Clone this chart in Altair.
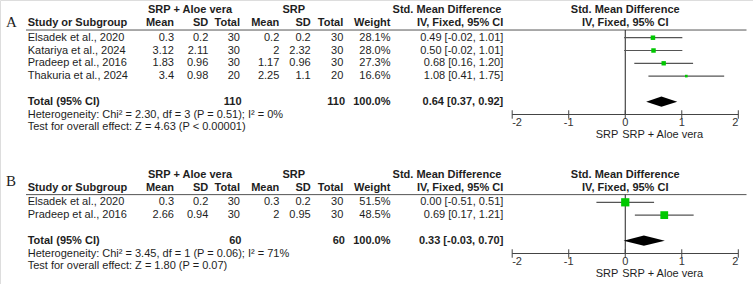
import altair as alt
import pandas as pd

W, H = 753, 284
PITCH = 12.8          # pixel height of one table line
FONT = "Liberation Sans"
TXT = "#1e1e1e"

# ---------------- Panel A ----------------
studies_a = ["Elsadek et al., 2020", "Katariya et al., 2024",
             "Pradeep et al., 2016", "Thakuria et al., 2024"]
aloe_mean_a = [0.3, 3.12, 1.83, 3.4]
aloe_sd_a = [0.2, 2.11, 0.96, 0.98]
aloe_n_a = [30, 30, 30, 20]
srp_mean_a = [0.2, 2, 1.17, 2.25]
srp_sd_a = [0.2, 2.32, 0.96, 1.1]
srp_n_a = [30, 30, 30, 20]
weight_a = [28.1, 28.0, 27.3, 16.6]
smd_a = [0.49, 0.50, 0.68, 1.08]
lo_a = [-0.02, -0.02, 0.16, 0.41]
hi_a = [1.01, 1.01, 1.20, 1.75]
pooled_a = [0.64, 0.37, 0.92]
het_a = "Heterogeneity: Chi² = 2.30, df = 3 (P = 0.51); I² = 0%"
test_a = "Test for overall effect: Z = 4.63 (P < 0.00001)"

# ---------------- Panel B ----------------
studies_b = ["Elsadek et al., 2020", "Pradeep et al., 2016"]
aloe_mean_b = [0.3, 2.66]
aloe_sd_b = [0.2, 0.94]
aloe_n_b = [30, 30]
srp_mean_b = [0.3, 2]
srp_sd_b = [0.2, 0.95]
srp_n_b = [30, 30]
weight_b = [51.5, 48.5]
smd_b = [0.00, 0.69]
lo_b = [-0.51, 0.17]
hi_b = [0.51, 1.21]
pooled_b = [0.33, -0.03, 0.70]
het_b = "Heterogeneity: Chi² = 3.45, df = 1 (P = 0.06); I² = 71%"
test_b = "Test for overall effect: Z = 1.80 (P = 0.07)"

axis_ticks = [-2, -1, 0, 1, 2]

panels = [
    dict(label="A", base=37.7 / PITCH, letter=-1.19,
         studies=studies_a, m1=aloe_mean_a, sd1=aloe_sd_a, n1=aloe_n_a,
         m2=srp_mean_a, sd2=srp_sd_a, n2=srp_n_a, w=weight_a,
         est=smd_a, lo=lo_a, hi=hi_a, pooled=pooled_a, het=het_a, test=test_a),
    dict(label="B", base=202.3 / PITCH, letter=-1.66,
         studies=studies_b, m1=aloe_mean_b, sd1=aloe_sd_b, n1=aloe_n_b,
         m2=srp_mean_b, sd2=srp_sd_b, n2=srp_n_b, w=weight_b,
         est=smd_b, lo=lo_b, hi=hi_b, pooled=pooled_b, het=het_b, test=test_b),
]

# table column anchors (pixel x, alignment)
COLS = {
    "study": (27.7, "left"),
    "m1": (174, "right"), "sd1": (208.3, "right"), "n1": (240, "right"),
    "m2": (279.3, "right"), "sd2": (310.7, "right"), "n2": (343.3, "right"),
    "n1t": (241.5, "right"), "n2t": (345, "right"),
    "w": (390.5, "right"), "ci": (503.3, "right"),
    "g1": (190, "center"), "g2": (293.8, "center"), "smdh": (447, "center"),
}


def g(v):
    return f"{v:g}"


def ci_text(e, lo, hi):
    return f"{e:.2f} [{lo:.2f}, {hi:.2f}]"


cells, studies_rows, diamond, frames, fheads, letters = [], [], [], [], [], []
for p in panels:
    b, n = p["base"], len(p["studies"])
    P = p["label"]
    for i in range(n):
        ln = b + i
        row = dict(study=p["studies"][i], m1=g(p["m1"][i]), sd1=g(p["sd1"][i]),
                   n1=str(p["n1"][i]), m2=g(p["m2"][i]), sd2=g(p["sd2"][i]),
                   n2=str(p["n2"][i]), w=f"{p['w'][i]:.1f}%",
                   ci=ci_text(p["est"][i], p["lo"][i], p["hi"][i]))
        for k, t in row.items():
            cells.append(dict(panel=P, line=ln, col=k, text=t, bold=False))
        studies_rows.append(dict(panel=P, line=ln, est=p["est"][i], lo=p["lo"][i],
                                 hi=p["hi"][i], weight=p["w"][i]))
    for k, t in [("g1", "SRP + Aloe vera"), ("g2", "SRP"), ("smdh", "Std. Mean Difference")]:
        cells.append(dict(panel=P, line=b - 2.17, col=k, text=t, bold=True))
    for k, t in [("study", "Study or Subgroup"), ("m1", "Mean"), ("sd1", "SD"), ("n1", "Total"),
                 ("m2", "Mean"), ("sd2", "SD"), ("n2", "Total"), ("w", "Weight"),
                 ("ci", "IV, Fixed, 95% CI")]:
        cells.append(dict(panel=P, line=b - 1.15, col=k, text=t, bold=True))
    tl = b + n + 1
    e, lo, hi = p["pooled"]
    for k, t in [("study", "Total (95% CI)"), ("n1t", str(sum(p["n1"]))),
                 ("n2t", str(sum(p["n2"]))), ("w", f"{sum(p['w']):.1f}%"),
                 ("ci", ci_text(e, lo, hi))]:
        cells.append(dict(panel=P, line=tl, col=k, text=t, bold=True))
    cells.append(dict(panel=P, line=b + n + 2, col="study", text=p["het"], bold=False))
    cells.append(dict(panel=P, line=b + n + 3, col="study", text=p["test"], bold=False))

    diamond += [dict(panel=P, x=lo, y=tl, y2=tl),
                dict(panel=P, x=e, y=tl - 0.4, y2=tl + 0.4),
                dict(panel=P, x=hi, y=tl, y2=tl)]
    frames.append(dict(panel=P, rule=b - 0.6, axis=b + n + 2, tick_lab=b + n + 2.7,
                       side=b + n + 3.6, xmin=min(axis_ticks), xmax=max(axis_ticks),
                       null=0))
    fheads += [dict(panel=P, line=b - 2.17, text="Std. Mean Difference", null=0),
               dict(panel=P, line=b - 1.15, text="IV, Fixed, 95% CI", null=0)]
    letters.append(dict(panel=P, line=b + p["letter"], text=P))

cells = pd.DataFrame(cells)
studies_df = pd.DataFrame(studies_rows)
diamond = pd.DataFrame(diamond)
frames = pd.DataFrame(frames)
fheads = pd.DataFrame(fheads)
letters = pd.DataFrame(letters)
ticks = pd.DataFrame([dict(panel=f["panel"], t=t, axis=f["axis"], lab=f["tick_lab"],
                           label=str(t).replace("-", "-"))
                      for f in frames.to_dict("records") for t in axis_ticks])

xs = alt.Scale(domain=[-2, 2], range=[512.2, 738.3], zero=False, nice=False)
ys = alt.Scale(domain=[0, H / PITCH], range=[0, H], zero=False, nice=False)


def X(f):
    return alt.X(f, type="quantitative", scale=xs, axis=None)


def Y(f):
    return alt.Y(f, type="quantitative", scale=ys, axis=None)


layers = []

# header rule under the column titles
layers.append(alt.Chart(frames).mark_rule(color="#555", strokeWidth=1).encode(
    x=alt.value(26), x2=alt.value(746.5), y=Y("rule")))
# line of no effect
layers.append(alt.Chart(frames).mark_rule(color="#222", strokeWidth=1).encode(
    x=X("null"), y=Y("rule"), y2=alt.Y2("axis")))
# confidence intervals
layers.append(alt.Chart(studies_df).mark_rule(color="#555", strokeWidth=1.2).encode(
    x=X("lo"), x2=alt.X2("hi"), y=Y("line")))
# study estimates, sized by weight
layers.append(alt.Chart(studies_df).mark_square(color="#00c800", opacity=1, filled=True).encode(
    x=X("est"), y=Y("line"),
    size=alt.Size("weight:Q", scale=alt.Scale(type="pow", exponent=2, domain=[0, 100],
                                              range=[0, 256]), legend=None)))
# pooled estimate diamond
layers.append(alt.Chart(diamond).mark_area(color="black", opacity=1).encode(
    x=X("x"), y=Y("y"), y2=alt.Y2("y2"), detail="panel:N"))
# effect axis
layers.append(alt.Chart(frames).mark_rule(color="#444", strokeWidth=1).encode(
    x=X("xmin"), x2=alt.X2("xmax"), y=Y("axis")))
tick_base = alt.Chart(ticks).transform_calculate(
    top="datum.axis - 0.33", bot="datum.axis + 0.33")
layers.append(tick_base.mark_rule(color="#444", strokeWidth=1).encode(
    x=X("t"), y=Y("top:Q"), y2=alt.Y2("bot:Q")))
for cond, align, dx in [("datum.t == -2", "left", 0), ("datum.t == 2", "right", 0),
                        ("datum.t > -2 && datum.t < 2", "center", 0)]:
    layers.append(alt.Chart(ticks).transform_filter(cond).mark_text(
        font=FONT, fontSize=11, color="#333", align=align, baseline="middle", dx=dx).encode(
        x=X("t"), y=Y("lab"), text="label:N"))
# favours labels
layers.append(alt.Chart(frames).mark_text(
    font=FONT, fontSize=11, color=TXT, align="right", baseline="middle", dx=-7, text="SRP").encode(
    x=X("null"), y=Y("side")))
layers.append(alt.Chart(frames).mark_text(
    font=FONT, fontSize=11, color=TXT, align="left", baseline="middle", dx=-3,
    text="SRP + Aloe vera").encode(x=X("null"), y=Y("side")))
# forest column headings
layers.append(alt.Chart(fheads).mark_text(
    font=FONT, fontSize=11, fontWeight="bold", color=TXT, align="center", baseline="middle").encode(
    x=X("null"), y=Y("line"), text="text:N"))

# table text
for (col, bold), sub in cells.groupby(["col", "bold"]):
    px, align = COLS[col]
    layers.append(alt.Chart(sub).mark_text(
        font=FONT, fontSize=11, fontWeight="bold" if bold else "normal", color=TXT,
        align=align, baseline="middle").encode(
        x=alt.value(px), y=Y("line"), text="text:N"))

# panel letters
layers.append(alt.Chart(letters).mark_text(
    font="Liberation Serif", fontSize=15, color="#222", align="left", baseline="middle").encode(
    x=alt.value(6), y=Y("line"), text="text:N"))

chart = alt.layer(*layers).properties(
    width=W, height=H, autosize=alt.AutoSizeParams(type="none"), padding=0
).configure_view(stroke=None).configure(background="white")

chart.save("out.html", embed_options={"renderer": "svg", "actions": False})
